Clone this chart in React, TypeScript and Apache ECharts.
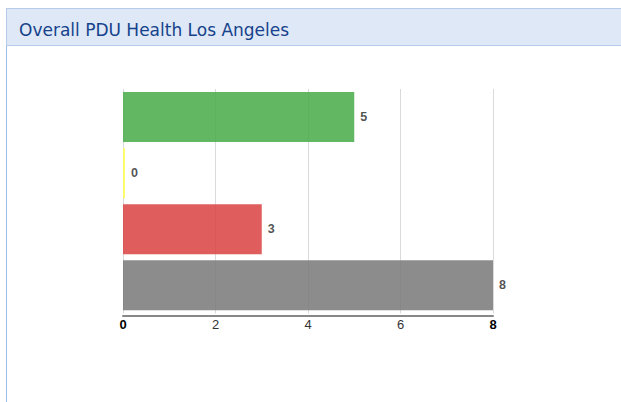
import React, { useEffect, useRef } from "react";
import * as echarts from "echarts";

const title = "Overall PDU Health Los Angeles";
const categories = ["Normal", "Warning", "Critical", "Unknown"];
const values = [5, 0, 3, 8];
const barColors = ["#46ab46", "#ffff55", "#d94141", "#787878"];
const axisMin = 0;
const axisMax = 8;
const axisInterval = 2;

export default function App() {
  const ref = useRef<HTMLDivElement>(null);
  useEffect(() => {
    if (!ref.current) return;
    const chart = echarts.init(ref.current, undefined, { renderer: "svg" });
    chart.setOption({
      animation: false,
      backgroundColor: "#ffffff",
      title: {
        text: title,
        left: 14,
        top: 16,
        textStyle: {
          fontFamily: "DejaVu Sans",
          fontSize: 17,
          fontWeight: "normal",
          color: "#15428b",
        },
      },
      graphic: [
        {
          type: "rect",
          z: -10,
          shape: { x: 6.5, y: 8.5, width: 620, height: 400 },
          style: { fill: "#ffffff", stroke: "#99bbe8", lineWidth: 1 },
        },
        {
          type: "rect",
          z: -9,
          shape: { x: 6.5, y: 8.5, width: 620, height: 37 },
          style: { fill: "#dfe8f6", stroke: "#b5cbe9", lineWidth: 1 },
        },
      ],
      grid: { left: 123, right: 128, top: 89, height: 224.4, containLabel: false },
      xAxis: {
        type: "value",
        min: axisMin,
        max: axisMax,
        interval: axisInterval,
        offset: 2,
        axisLine: { show: true, lineStyle: { color: "#888888", width: 2 } },
        axisTick: { show: false },
        splitLine: { show: true, lineStyle: { color: "#dadada", width: 1 } },
        axisLabel: {
          margin: 3,
          formatter: (v: number) =>
            v === axisMin || v === axisMax ? `{b|${v}}` : `{n|${v}}`,
          rich: {
            b: { fontFamily: "Arial", fontSize: 13, fontWeight: "bold", color: "#000000" },
            n: { fontFamily: "Arial", fontSize: 13, color: "#333333" },
          },
        },
      },
      yAxis: {
        type: "category",
        data: categories,
        inverse: true,
        axisLine: { show: false },
        axisTick: { show: false },
        axisLabel: { show: false },
        splitLine: { show: false },
      },
      series: [
        {
          type: "bar",
          barWidth: 50,
          barMinHeight: 2,
          data: values.map((v, i) => ({
            value: v,
            itemStyle: { color: barColors[i], opacity: 0.85 },
          })),
          label: {
            show: true,
            position: "right",
            distance: 6,
            fontFamily: "Arial",
            fontSize: 12.5,
            fontWeight: "bold",
            color: "#333333",
          },
        },
      ],
    });
    return () => chart.dispose();
  }, []);
  return (
    <div
      ref={ref}
      style={{ position: "fixed", left: 0, top: 0, width: 621, height: 402 }}
    />
  );
}
